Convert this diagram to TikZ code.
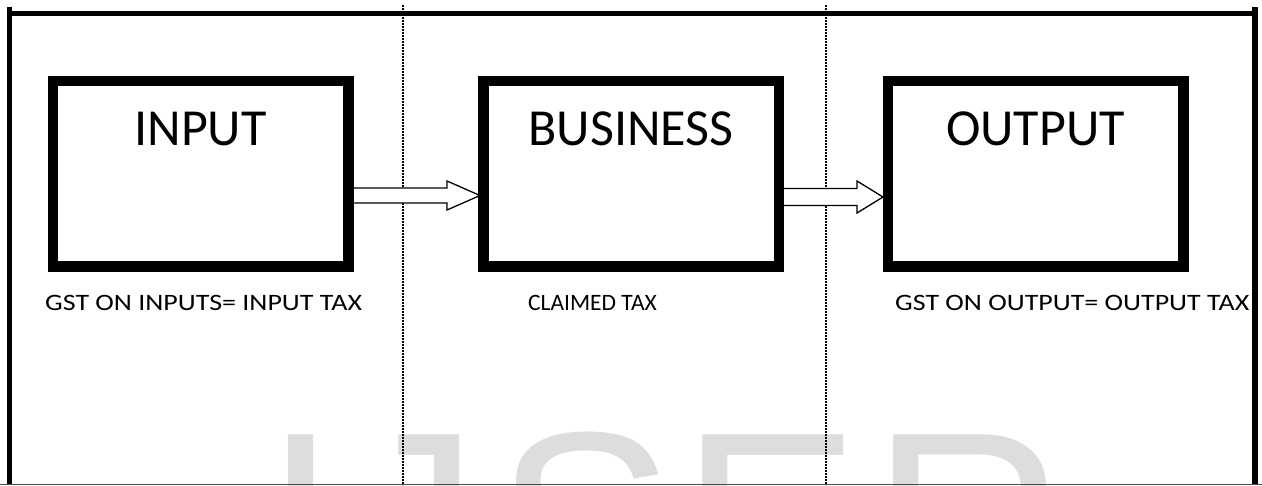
\documentclass[tikz,border=0pt]{standalone}
\usepackage{fontspec}
\setmainfont{Carlito}
\newfontfamily\widefont[FakeStretch=1.19]{Carlito}
\newfontfamily\wmfont{Liberation Sans}
\usetikzlibrary{calc}
\definecolor{wmgray}{HTML}{DDDDDD}
\newcommand\blockarr[5]{%
  \draw[blockarrow] ($(#1)+(0,-#3)$) -- ($(#2)+(-#5,-#3)$) -- ($(#2)+(-#5,-#4)$) -- (#2)
    -- ($(#2)+(-#5,#4)$) -- ($(#2)+(-#5,#3)$) -- ($(#1)+(0,#3)$) -- cycle;}
\begin{document}
\begin{tikzpicture}[x=1pt,y=-1pt,
  box/.style={draw, line width=7pt, minimum width=292pt, minimum height=182pt, inner sep=0pt},
  boxtitle/.style={font=\fontsize{52}{60}\selectfont, anchor=base, inner sep=0pt},
  caption/.style={font=\fontsize{23.5}{28}\selectfont, anchor=base west, inner sep=0pt},
  widecaption/.style={font=\widefont\fontsize{23.5}{28}\selectfont, anchor=base west, inner sep=0pt},
  blockarrow/.style={draw, fill=white, line width=1.3pt, line join=miter},
  framerule/.style={line width=5.3pt},
  divider/.style={line width=1.8pt, dash pattern=on 2pt off 1pt},
  wm/.style={text=wmgray, font=\wmfont\fontsize{270}{300}\selectfont, anchor=base west, inner sep=0pt}
]
\useasboundingbox (0,0) rectangle (1262,485);
\clip (0,0) rectangle (1262,485);
\fill[white] (0,0) rectangle (1262,485);
% watermark
\node[wm] (wI) at (263,620) {I};
\node[wm] (wJ) at (344,620) {J};
\node[wm] (wS) at (495,620) {S};
\node[wm] (wE) at (680,620) {E};
\node[wm] (wR) at (871,620) {R};
% dividers
\draw[divider] (403,5) -- (403,485);
\draw[divider] (826,5) -- (826,485);
% frame
\draw[framerule] (7,13.5) -- (1255,13.5);
\draw[framerule] (9.3,7) -- (9.3,485);
\draw[framerule] (1255,7) -- (1255,485);
\draw[black!70, line width=1pt] (0,484.5) -- (1262,484.5);
% boxes
\node[box] (inp) at (200.5,173.5) {};
\node[box] (bus) at (631,173.5) {};
\node[box] (out) at (1035.5,173.5) {};
% arrows
\coordinate (a1s) at ($(inp.east)+(0,22)$);
\coordinate (a1t) at ($(bus.west)+(-1.5,22)$);
\coordinate (a2s) at ($(bus.east)+(0,23.5)$);
\coordinate (a2t) at ($(out.west)+(-3,23.5)$);
\blockarr{a1s}{a1t}{7.5}{14.5}{33}
\blockarr{a2s}{a2t}{8.5}{16}{26}
\draw[line width=7pt] (inp.north west) rectangle (inp.south east);
\draw[line width=7pt] (bus.north west) rectangle (bus.south east);
\draw[line width=7pt] (out.north west) rectangle (out.south east);
% titles
\node[boxtitle] (tinp) at ($(inp.center)+(0,-28.5)$) {INPUT};
\node[boxtitle] (tbus) at ($(bus.center)+(0,-28.5)$) {BUSINESS};
\node[boxtitle] (tout) at ($(out.center)+(0,-28.5)$) {OUTPUT};
% captions
\node[widecaption] (c1) at (45,310) {GST ON INPUTS= INPUT TAX};
\node[caption] (c2) at (528,310) {CLAIMED TAX};
\node[widecaption] (c3) at (895,310) {GST ON OUTPUT= OUTPUT TAX};
\end{tikzpicture}
\end{document}
